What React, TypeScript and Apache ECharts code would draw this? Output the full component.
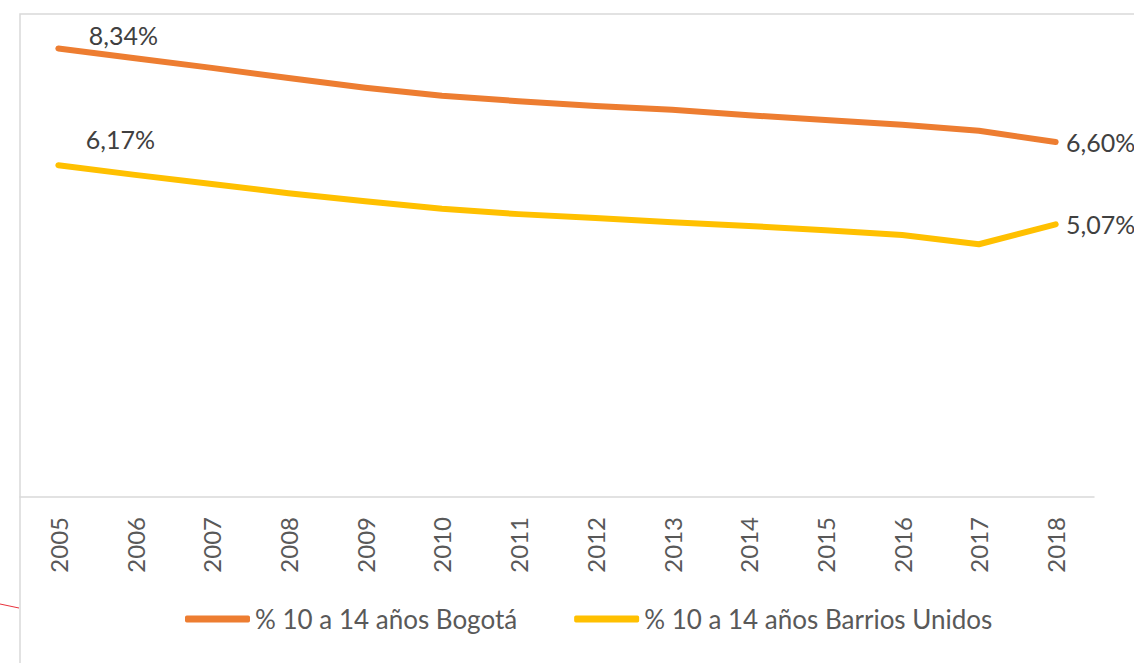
import React, { useEffect, useRef } from "react";
import * as echarts from "echarts";

const years = ["2005", "2006", "2007", "2008", "2009", "2010", "2011", "2012", "2013", "2014", "2015", "2016", "2017", "2018"];
const bogota = [8.34, 8.16, 7.98, 7.79, 7.61, 7.46, 7.36, 7.27, 7.2, 7.1, 7.01, 6.92, 6.81, 6.6];
const barrios = [6.17, 5.99, 5.82, 5.65, 5.5, 5.36, 5.26, 5.19, 5.11, 5.04, 4.96, 4.87, 4.7, 5.07];
const seriesNames = ["% 10 a 14 años Bogotá", "% 10 a 14 años Barrios Unidos"];
const colors = ["#ED7D31", "#FFC000"];

const FONT = "Lato, 'Noto Sans', sans-serif";

function fmt(v: number) {
  return v.toFixed(2).replace(".", ",") + "%";
}

function buildData(values: number[], firstOffset: number[], lastOffset: number[]) {
  return values.map((v, i) => {
    if (i === 0 || i === values.length - 1) {
      return {
        value: v,
        label: {
          show: true,
          position: "inside",
          offset: i === 0 ? firstOffset : lastOffset,
          formatter: () => fmt(v),
          fontSize: 25,
          fontFamily: FONT,
          color: "#404040",
        },
      };
    }
    return { value: v };
  });
}

export default function App() {
  const ref = useRef<HTMLDivElement>(null);
  useEffect(() => {
    if (!ref.current) return;
    const chart = echarts.init(ref.current, undefined, { renderer: "svg" });
    chart.setOption({
      animation: false,
      backgroundColor: "#ffffff",
      textStyle: { fontFamily: FONT },
      grid: { left: 20, right: 40, top: 13, bottom: 166, containLabel: false },
      xAxis: {
        type: "category",
        data: years,
        boundaryGap: true,
        axisLine: { show: true, lineStyle: { color: "#d9d9d9", width: 1.5 } },
        axisTick: { show: false },
        axisLabel: { rotate: 90, margin: 20, fontSize: 24, color: "#595959", fontFamily: FONT },
        splitLine: { show: false },
      },
      yAxis: {
        type: "value",
        min: 0,
        max: 9,
        show: false,
        splitLine: { show: false },
      },
      legend: {
        left: 185,
        top: 606,
        padding: 0,
        itemWidth: 65,
        itemHeight: 7,
        itemGap: 57,
        icon: "roundRect",
        textStyle: { fontSize: 26, color: "#595959", fontFamily: FONT },
        data: seriesNames,
      },
      series: [
        {
          name: seriesNames[0],
          type: "line",
          data: buildData(bogota, [65, -13], [45, 0]),
          symbol: "circle",
          symbolSize: 1,
          showSymbol: true,
          itemStyle: { color: colors[0] },
          lineStyle: { color: colors[0], width: 6, cap: "round", join: "round" },
          label: { show: false },
        },
        {
          name: seriesNames[1],
          type: "line",
          data: buildData(barrios, [62, -26], [45, 0]),
          symbol: "circle",
          symbolSize: 1,
          showSymbol: true,
          itemStyle: { color: colors[1] },
          lineStyle: { color: colors[1], width: 6, cap: "round", join: "round" },
          label: { show: false },
        },
      ],
      graphic: [
        {
          type: "rect",
          shape: { x: 20, y: 14, width: 1300, height: 800 },
          style: { fill: "none", stroke: "#d9d9d9", lineWidth: 1.5 },
          silent: true,
          z: -1,
        },
        {
          type: "line",
          shape: { x1: 0, y1: 604, x2: 19, y2: 608 },
          style: { stroke: "#e8323c", lineWidth: 1 },
          silent: true,
        },
      ],
    });
    return () => chart.dispose();
  }, []);
  return (
    <div
      ref={ref}
      style={{ position: "absolute", left: 0, top: 0, width: 1134, height: 663, overflow: "hidden" }}
    />
  );
}
